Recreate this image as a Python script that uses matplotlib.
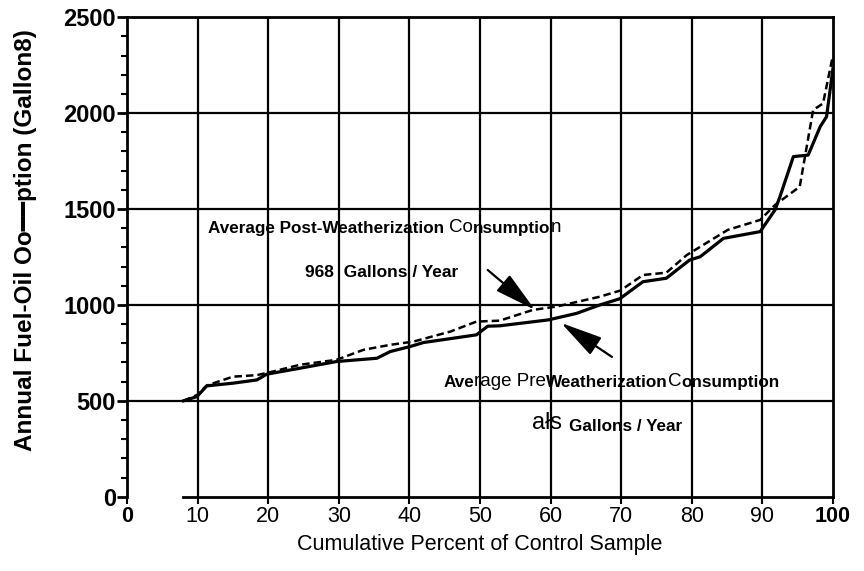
import matplotlib
matplotlib.use('Agg')
import matplotlib.pyplot as plt
from matplotlib.ticker import MultipleLocator

# ---- data ----
pct_pre = [8.0, 9.9, 11.3, 15.0, 18.4, 19.8, 24.5, 29.7, 35.4, 37.3, 40.1, 42.0,
           49.5, 51.1, 52.8, 59.7, 63.7, 67.0, 69.8, 73.1, 76.4, 79.7, 81.2,
           84.5, 89.7, 91.8, 92.5, 94.4, 96.5, 98.2, 99.1, 100.0]
cons_pre = [500, 522, 578, 592, 609, 639, 670, 705, 722, 757, 783, 804,
            844, 889, 891, 922, 956, 1000, 1032, 1121, 1139, 1234, 1251,
            1347, 1382, 1495, 1564, 1773, 1781, 1929, 1981, 2230]

pct_post = [8.0, 9.9, 11.3, 15.0, 18.4, 20.7, 24.5, 29.7, 33.5, 37.3, 40.6,
            45.8, 49.5, 52.8, 57.5, 60.8, 67.0, 69.9, 73.1, 76.4, 79.3, 85.1,
            89.7, 91.8, 95.3, 97.2, 98.6, 100.0]
cons_post = [500, 530, 580, 626, 634, 653, 688, 714, 766, 792, 809,
             861, 913, 918, 974, 991, 1043, 1075, 1156, 1168, 1260, 1391,
             1443, 1521, 1616, 2016, 2050, 2300]

x_ticks = [0, 10, 20, 30, 40, 50, 60, 70, 80, 90, 100]
x_tick_labels = ['0', '10', '20', '30', '40', '50', '60', '70', '80', '90', '100']
y_ticks = [0, 500, 1000, 1500, 2000, 2500]
y_tick_labels = ['0', '500', '1000', '1500', '2000', '2500']

x_label = 'Cumulative Percent of Control Sample'
y_label = 'Annual Fuel-Oil Oo\u2501\u2501ption (Gallon8)'

plt.rcParams['font.family'] = ['Liberation Sans', 'DejaVu Sans']

fig = plt.figure(figsize=(8.64, 5.71), dpi=100)
ax = fig.add_axes([0.147, 0.130, 0.817, 0.840])

ax.set_xlim(0, 100)
ax.set_ylim(0, 2500)

# grid
for xv in x_ticks[1:-1]:
    ax.axvline(xv, color='black', lw=1.6, zorder=1)
for yv in y_ticks[1:-1]:
    ax.axhline(yv, color='black', lw=1.6, zorder=1)

# series
ax.plot(pct_pre, cons_pre, color='black', lw=2.3, zorder=3)
ax.plot(pct_post, cons_post, color='black', lw=1.8, ls=(0, (3, 1.6)), zorder=3)

# spines
for s in ax.spines.values():
    s.set_linewidth(2.0)
ax.spines['bottom'].set_bounds(8, 100)

# ticks
ax.set_xticks(x_ticks)
ax.set_xticklabels(x_tick_labels, fontsize=15.5)
for lbl in ax.get_xticklabels():
    if lbl.get_text() in ('0', '100'):
        lbl.set_fontweight('bold')
ax.set_yticks(y_ticks)
ax.set_yticklabels(y_tick_labels, fontsize=17, fontweight='bold')
ax.yaxis.set_minor_locator(MultipleLocator(100))
ax.tick_params(axis='y', which='major', direction='out', length=7, width=2, pad=1)
ax.tick_params(axis='y', which='minor', direction='out', length=4, width=1.5)
ax.tick_params(axis='x', which='major', direction='out', length=5, width=1.5, pad=2)

ax.set_xlabel(x_label, fontsize=15.5, labelpad=5)
ax.set_ylabel(y_label, fontsize=17.5, fontweight='bold')
ax.yaxis.set_label_coords(-0.128, 0.535)


def chain(pieces, x, y):
    prev = None
    for txt, weight, sz in pieces:
        if prev is None:
            prev = ax.text(x, y, txt, fontsize=sz, fontweight=weight,
                           ha='left', va='bottom', zorder=5)
        else:
            prev = ax.annotate(txt, xy=(1, 0), xycoords=prev, fontsize=sz,
                               fontweight=weight, ha='left', va='bottom', zorder=5)


chain([('Average Post-Weatherization ', 'bold', 12.3),
       ('Co', 'normal', 13.5),
       ('nsumptio', 'bold', 12.3),
       ('n', 'normal', 13.5)], 11.5, 1360)
chain([('968  Gallons / Year', 'bold', 12.5)], 25.2, 1130)
chain([('Ave', 'bold', 12.3),
       ('rage Pre', 'normal', 13.5),
       ('Weatherization', 'bold', 12.3),
       ('C', 'normal', 13.5),
       ('onsumption', 'bold', 12.3)], 44.8, 555)
chain([('a\u0142s ', 'normal', 17),
       ('Gallons / Year', 'bold', 12.3)], 57.4, 325)

arrow_kw = dict(arrowstyle='-|>,head_length=1.3,head_width=0.32',
                color='black', lw=1.6, mutation_scale=20, shrinkA=0, shrinkB=0)
ax.annotate('', xy=(57.8, 974), xytext=(51.1, 1182), arrowprops=arrow_kw, zorder=6)
ax.annotate('', xy=(61.5, 906), xytext=(68.7, 729), arrowprops=arrow_kw, zorder=6)

fig.savefig('out.png', dpi=100)
